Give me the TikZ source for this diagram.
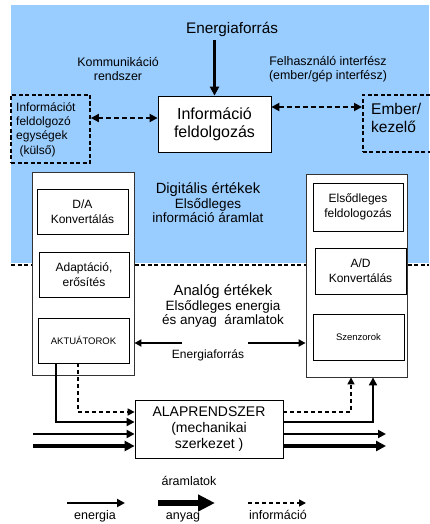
\documentclass[tikz,border=0pt]{standalone}
\usepackage{fontspec}
\setmainfont{Liberation Sans}
\usetikzlibrary{arrows.meta}
\definecolor{bgblue}{RGB}{153,204,255}
\begin{document}
\begin{tikzpicture}[x=1pt,y=-1pt,
  box/.style={draw, fill=white, line width=0.8pt, inner sep=0pt, align=center},
  dbox/.style={draw, line width=1.7pt, dash pattern=on 4pt off 2.5pt},
  lbl/.style={inner sep=0pt, align=center},
  en/.style={line width=2pt, -{Triangle[length=8pt,width=8pt]}},
  any/.style={line width=4pt, -{Triangle[length=10pt,width=10pt]}},
  inf/.style={line width=1.5pt, dash pattern=on 4pt off 3pt, -{Triangle[length=7pt,width=7pt]}},
  infb/.style={line width=1.8pt, dash pattern=on 5pt off 3pt, {Triangle[length=8pt,width=8pt]}-{Triangle[length=8pt,width=8pt]}},
]
\useasboundingbox (0,0) rectangle (429,524);
\fill[bgblue] (11,5) rectangle (429,263);
\draw[line width=1.6pt, dash pattern=on 4pt off 2.5pt] (11,265) -- (429,265);

% top
\node[lbl, font=\fontsize{15.3}{16}\selectfont] (etop) at (232,29) {Energiaforrás};
\node[lbl, font=\fontsize{12.4}{14}\selectfont] (komm) at (118,69) {Kommunikáció\\rendszer};
\node[lbl, font=\fontsize{12.4}{14}\selectfont] (felh) at (328,69) {Felhasználó interfész\\(ember/gép interfész)};
\node[box, minimum width=113pt, minimum height=56pt, font=\fontsize{16}{18}\selectfont] (info) at (214.5,124) {Információ\\feldolgozás};
\node[dbox, minimum width=79pt, minimum height=68pt] (ld) at (50.5,129) {};
\node[lbl, align=left, anchor=west, font=\fontsize{12}{14.3}\selectfont] (ldt) at (16,129.5) {Információt\\feldolgozó\\egységek\\\ (külső)};
\node[dbox, minimum width=80pt, minimum height=57pt, anchor=west] (rd) at (362,123.5) {};
\node[lbl, align=left, anchor=west, font=\fontsize{15.5}{18}\selectfont] (rdt) at (371,118) {Ember/\\kezelő};

\draw[line width=2.5pt, -{Triangle[length=9pt,width=9pt]}] (etop.south -| info.north) ++(0,4) -- (info.north);
\draw[infb] (ld.east |- 0,118) -- (info.west |- 0,118);
\draw[infb] (info.east |- 0,107) -- (rd.west |- 0,107);

% big side boxes
\node[box, draw=black!80, minimum width=102pt, minimum height=203pt] (lbig) at (83,273.5) {};
\node[box, minimum width=91pt, minimum height=45pt, font=\fontsize{12}{15}\selectfont] (da) at (82.5,211.5) {D/A\\Konvertálás};
\node[box, minimum width=90pt, minimum height=45pt, font=\fontsize{12}{15}\selectfont] (adapt) at (84,274.5) {Adaptáció,\\erősítés};
\node[box, minimum width=91pt, minimum height=45pt, font=\fontsize{9.5}{12}\selectfont] (akt) at (83.5,340.5) {AKTUÁTOROK};

\node[box, draw=black!80, minimum width=101pt, minimum height=203pt] (rbig) at (356.5,275.5) {};
\node[box, minimum width=90pt, minimum height=48pt, font=\fontsize{12}{15}\selectfont] (elsf) at (358,207) {Elsődleges\\feldologozás};
\node[box, minimum width=91pt, minimum height=46pt, font=\fontsize{12}{15}\selectfont] (ad) at (360.5,271) {A/D\\Konvertálás};
\node[box, minimum width=91pt, minimum height=46pt, font=\fontsize{9.5}{12}\selectfont] (szenz) at (358.5,337) {Szenzorok};

% middle texts
\node[lbl, font=\fontsize{14.8}{15.5}\selectfont] (digit) at (208,203) {Digitális értékek\\[-1pt]{\fontsize{13.5}{15.5}\selectfont Elsődleges}\\[-1pt]{\fontsize{13.5}{15.5}\selectfont információ áramlat}};
\node[lbl, font=\fontsize{14.8}{15.5}\selectfont] (analog) at (223,306) {Analóg értékek\\[-1pt]{\fontsize{13.5}{15.5}\selectfont Elsődleges energia}\\[-1pt]{\fontsize{13.5}{15.5}\selectfont és anyag\ \ áramlatok}};
\node[lbl, font=\fontsize{12}{14}\selectfont] (emid) at (208,355) {Energiaforrás};
\coordinate (ml) at (182,343);
\coordinate (mr) at (248,343);
\draw[line width=2pt, -{Triangle[length=7pt,width=7pt]}] (ml) -- (lbig.east |- ml);
\draw[line width=2pt, -{Triangle[length=7pt,width=7pt]}] (mr) -- (rbig.west |- mr);

% base system
\node[box, minimum width=148pt, minimum height=58pt, font=\fontsize{14}{16}\selectfont] (alap) at (209,429) {ALAPRENDSZER\\(mechanikai\\szerkezet )};

\draw[en] (akt.south -| 56,0) |- (alap.west |- 0,422);
\draw[inf] (akt.south -| 78,0) |- (alap.west |- 0,412);
\coordinate (in1) at (33,434);
\coordinate (in2) at (33,446);
\draw[en] (in1) -- (alap.west |- in1);
\draw[any] (in2) -- (alap.west |- in2);
\coordinate (out1) at (386,434);
\coordinate (out2) at (386,446);
\draw[en] (alap.east |- out1) -- (out1);
\draw[any] (alap.east |- out2) -- (out2);
\draw[en] (alap.east |- 0,422) -| (rbig.south -| 373,0);
\draw[inf] (alap.east |- 0,412) -| (rbig.south -| 351,0);

% legend
\node[lbl, font=\fontsize{12.5}{14}\selectfont] (aram) at (189,481) {áramlatok};
\coordinate (l1a) at (67,503); \coordinate (l1b) at (125,503);
\coordinate (l2a) at (158,503); \coordinate (l2b) at (215,503);
\coordinate (l3a) at (248,503); \coordinate (l3b) at (306,503);
\draw[line width=2pt, -{Triangle[length=8pt,width=8pt]}] (l1a) -- (l1b);
\draw[line width=6.5pt, -{Triangle[length=17pt,width=16pt]}] (l2a) -- (l2b);
\draw[inf] (l3a) -- (l3b);
\node[lbl, font=\fontsize{12.5}{14}\selectfont, anchor=base] (len) at (95,519) {energia};
\node[lbl, font=\fontsize{12.5}{14}\selectfont, anchor=base] (lan) at (183,519) {anyag};
\node[lbl, font=\fontsize{12.5}{14}\selectfont, anchor=base] (lin) at (278,519) {információ};
\end{tikzpicture}
\end{document}
